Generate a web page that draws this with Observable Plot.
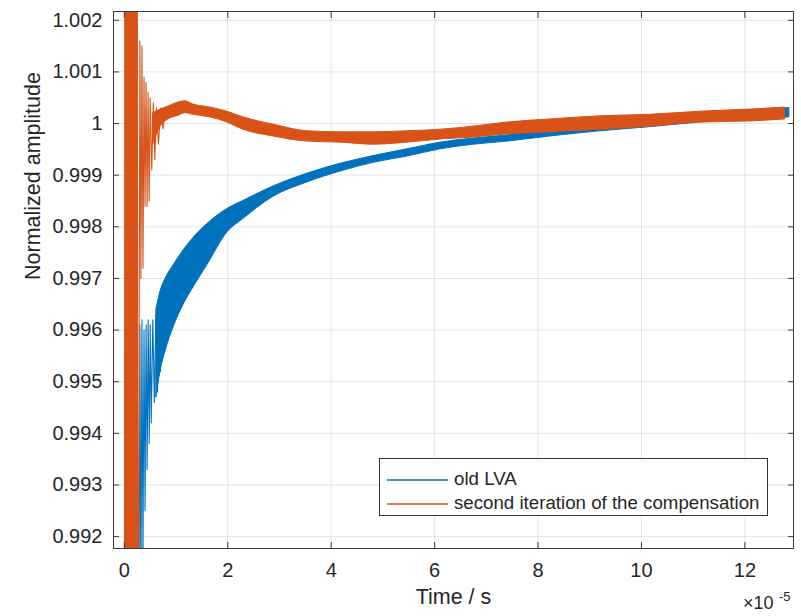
<!DOCTYPE html>
<html>
<head>
<meta charset="utf-8">
<script src="https://cdn.jsdelivr.net/npm/d3@7"></script>
<script src="https://cdn.jsdelivr.net/npm/@observablehq/plot@0.6"></script>
<style>
html, body { margin: 0; padding: 0; background: #fff; }
#wrap { position: relative; width: 801px; height: 616px; font-family: "Liberation Sans", Arial, Helvetica, sans-serif; color: #262626; }
.legend { position: absolute; left: 379px; top: 458px; width: 389px; height: 58px; border: 1px solid #333; background: #fff; box-sizing: border-box; }
.legend .row { position: absolute; left: 0; height: 24px; width: 100%; }
.legend .sw { position: absolute; left: 7px; width: 61px; height: 1.5px; top: 11px; opacity: 0.75; }
.legend .lab { position: absolute; left: 74px; top: 0; font-size: 18.7px; line-height: 22px; white-space: nowrap; color: #262626; }
</style>
</head>
<body>
<div id="wrap"></div>
<script>
// ---- Data (time in units of 1e-5 s) ----
const xTicks = [0, 2, 4, 6, 8, 10, 12];
const yTicks = [0.992, 0.993, 0.994, 0.995, 0.996, 0.997, 0.998, 0.999, 1.000, 1.001, 1.002];

const seriesNames = ["old LVA", "second iteration of the compensation"];
const seriesColors = ["#0072BD", "#D95319"];

// old LVA: early oscillation
const blueSpikeT = [0.24, 0.26, 0.28, 0.30, 0.32, 0.34, 0.36, 0.38, 0.40, 0.42, 0.44, 0.46, 0.48, 0.50, 0.52, 0.55, 0.58, 0.61, 0.64, 0.67, 0.70];
const blueSpikeV = [0.985, 0.9915, 0.9895, 0.9961, 0.9905, 0.9962, 0.9915, 0.9960, 0.9925, 0.9961, 0.9933, 0.9962, 0.9938, 0.9961, 0.9942, 0.9962, 0.9946, 0.9963, 0.9948, 0.9965, 0.9952];

// old LVA: noise band (lower / upper envelope)
const blueBandT  = [0.62, 0.70, 0.80, 0.95, 1.15, 1.35, 1.60, 2.00, 2.30, 2.88, 3.54, 4.18, 4.82, 5.47, 6.11, 6.75, 7.41, 8.24, 9.20, 10.17, 11.14, 12.10, 12.86];
const blueBandLo = [0.9947, 0.9952, 0.9956, 0.99605, 0.9965, 0.99685, 0.99725, 0.99790, 0.99815, 0.99858, 0.99886, 0.99907, 0.99924, 0.99936, 0.99950, 0.99959, 0.99965, 0.99975, 0.99985, 0.99993, 1.00002, 1.00008, 1.00012];
const blueBandHi = [0.9964, 0.99675, 0.9970, 0.99725, 0.99755, 0.99780, 0.99805, 0.99835, 0.99850, 0.99878, 0.99903, 0.99922, 0.99937, 0.99950, 0.99963, 0.99971, 0.99977, 0.99988, 0.99998, 1.00007, 1.00017, 1.00025, 1.00030];

// second iteration: early oscillation
const orangeSpikeT = [0.00, 0.01, 0.02, 0.03, 0.04, 0.05, 0.06, 0.07, 0.08, 0.09, 0.10, 0.11, 0.12, 0.13, 0.14, 0.15, 0.16, 0.17, 0.18, 0.19, 0.20, 0.21, 0.22, 0.23, 0.24, 0.25, 0.26, 0.28, 0.30, 0.32, 0.34, 0.36, 0.38, 0.40, 0.42, 0.44, 0.46, 0.48, 0.50, 0.53, 0.56, 0.59, 0.62, 0.66, 0.70, 0.75, 0.80];
const orangeSpikeV = [0.985, 1.006, 0.985, 1.006, 0.985, 1.006, 0.985, 1.006, 0.985, 1.006, 0.985, 1.006, 0.985, 1.006, 0.985, 1.006, 0.985, 1.006, 0.985, 1.006, 0.985, 1.006, 0.985, 1.006, 0.986, 1.005, 0.988, 0.9930, 1.0016, 0.9970, 1.0015, 0.9972, 1.0009, 0.9984, 1.0008, 0.9984, 1.0006, 0.9985, 1.0005, 0.9991, 1.0004, 0.9993, 1.0003, 0.9996, 1.0003, 0.9999, 1.0003];

// second iteration: noise band (lower / upper envelope)
const orangeBandT  = [0.56, 0.70, 0.85, 1.02, 1.18, 1.33, 1.66, 1.99, 2.30, 2.88, 3.54, 4.18, 4.82, 5.47, 6.11, 6.75, 7.41, 8.24, 9.20, 10.17, 11.14, 12.10, 12.78];
const orangeBandLo = [0.9996, 0.99994, 1.00008, 1.00014, 1.00020, 1.00017, 1.00012, 1.00002, 0.99988, 0.99975, 0.99965, 0.99963, 0.99959, 0.99963, 0.99969, 0.99973, 0.99979, 0.99983, 0.99988, 0.99994, 1.00002, 1.00004, 1.00008];
const orangeBandHi = [1.0002, 1.00027, 1.00033, 1.00040, 1.00043, 1.00037, 1.00031, 1.00023, 1.00012, 0.99998, 0.99985, 0.99983, 0.99983, 0.99985, 0.99988, 0.99994, 1.00002, 1.00008, 1.00014, 1.00017, 1.00023, 1.00027, 1.00031];

// ---- Build tables ----
const blueSpike = blueSpikeT.map((t, i) => ({t, v: blueSpikeV[i]}));
const blueBand = blueBandT.map((t, i) => ({t, lo: blueBandLo[i], hi: blueBandHi[i]}));
const orangeSpike = orangeSpikeT.map((t, i) => ({t, v: orangeSpikeV[i]}));
const orangeBand = orangeBandT.map((t, i) => ({t, lo: orangeBandLo[i], hi: orangeBandHi[i]}));

const BLUE = seriesColors[0], ORANGE = seriesColors[1];
const AX = "#262626";
const fmtY = d => String(+d.toFixed(3));

const chart = Plot.plot({
  width: 801,
  height: 616,
  marginLeft: 113,
  marginRight: 8,
  marginTop: 11,
  marginBottom: 68,
  style: {fontFamily: '"Liberation Sans", Arial, Helvetica, sans-serif', color: AX, background: "#fff", overflow: "visible"},
  x: {domain: [-0.21, 12.94]},
  y: {domain: [0.99177, 1.00217]},
  marks: [
    Plot.gridX(xTicks, {stroke: AX, strokeOpacity: 0.12}),
    Plot.gridY(yTicks, {stroke: AX, strokeOpacity: 0.12}),
    Plot.areaY(blueBand, {x: "t", y1: "lo", y2: "hi", fill: BLUE, stroke: BLUE, strokeWidth: 1, curve: "monotone-x", clip: true}),
    Plot.line(blueSpike, {x: "t", y: "v", stroke: BLUE, strokeWidth: 1.1, clip: true}),
    Plot.areaY(orangeBand, {x: "t", y1: "lo", y2: "hi", fill: ORANGE, stroke: ORANGE, strokeWidth: 1, curve: "monotone-x", clip: true}),
    Plot.line(orangeSpike, {x: "t", y: "v", stroke: ORANGE, strokeWidth: 1.1, clip: true}),
    Plot.frame({stroke: "#3a3a3a", strokeWidth: 1}),
    Plot.axisX(xTicks, {anchor: "bottom", tickSize: -6, fill: "none", stroke: "#3a3a3a", label: null}),
    Plot.axisX(xTicks, {anchor: "top", tickSize: -6, fill: "none", stroke: "#3a3a3a", label: null}),
    Plot.axisY(yTicks, {anchor: "left", tickSize: -6, fill: "none", stroke: "#3a3a3a", label: null}),
    Plot.axisY(yTicks, {anchor: "right", tickSize: -6, fill: "none", stroke: "#3a3a3a", label: null}),
    Plot.axisX(xTicks, {anchor: "bottom", tickSize: 0, tickPadding: 14, fontSize: 20, fill: AX, label: null, tickFormat: d => String(d)}),
    Plot.axisY(yTicks, {anchor: "left", tickSize: 0, tickPadding: 11, fontSize: 20, fill: AX, label: null, tickFormat: fmtY}),
    Plot.text(["Time / s"], {frameAnchor: "bottom", dy: 55, fontSize: 21.5, fill: AX}),
    Plot.text(["Normalized amplitude"], {frameAnchor: "left", dx: -80, rotate: -90, fontSize: 21.5, fill: AX}),
    Plot.text(["×10"], {frameAnchor: "bottom-right", dx: -20, dy: 60, textAnchor: "end", fontSize: 18, fill: AX}),
    Plot.text(["-5"], {frameAnchor: "bottom-right", dx: -3, dy: 52, textAnchor: "end", fontSize: 13, fill: AX})
  ]
});

const wrap = document.getElementById("wrap");
wrap.appendChild(chart);

// Legend (HTML overlay inside the axes)
const legend = document.createElement("div");
legend.className = "legend";
seriesNames.forEach((name, i) => {
  const row = document.createElement("div");
  row.className = "row";
  row.style.top = (9 + i * 24) + "px";
  const sw = document.createElement("div");
  sw.className = "sw";
  sw.style.background = seriesColors[i];
  const lab = document.createElement("div");
  lab.className = "lab";
  lab.textContent = name;
  row.appendChild(sw);
  row.appendChild(lab);
  legend.appendChild(row);
});
wrap.appendChild(legend);
</script>
</body>
</html>
